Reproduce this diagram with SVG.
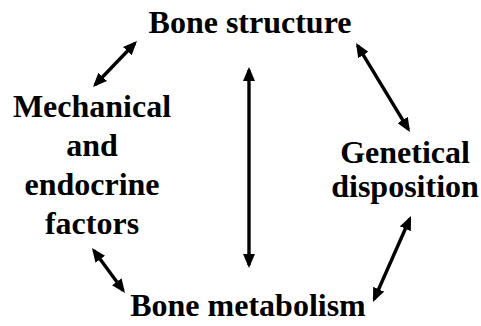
<svg xmlns="http://www.w3.org/2000/svg" width="481" height="326" viewBox="0 0 481 326">
<defs>
<marker id="ah" viewBox="0 0 14 12" refX="11" refY="6" markerWidth="14" markerHeight="12" orient="auto-start-reverse" markerUnits="userSpaceOnUse">
<path d="M0,0 L14,6 L0,12 Z" fill="#000"/>
</marker>
<style>
text{font-family:"Liberation Serif","Times New Roman",serif;font-weight:bold;font-size:32px;fill:#000;text-anchor:middle}
.c line{stroke:#000;stroke-width:3.4;marker-start:url(#ah);marker-end:url(#ah)}
</style>
</defs>
<rect width="481" height="326" fill="#fff"/>
<g id="bone-structure"><text x="250" y="33">Bone structure</text></g>
<g id="mechanical"><text x="92" y="117">Mechanical</text><text x="92" y="156">and</text><text x="92" y="195">endocrine</text><text x="92" y="234">factors</text></g>
<g id="genetical"><text x="405" y="163">Genetical</text><text x="405" y="197">disposition</text></g>
<g id="bone-metabolism"><text x="248" y="316">Bone metabolism</text></g>
<g class="c" id="connectors">
<line x1="95.1" y1="84.8" x2="134.9" y2="43.2"/>
<line x1="249" y1="70" x2="249" y2="265"/>
<line x1="357.6" y1="45.6" x2="408.4" y2="129.4"/>
<line x1="93.8" y1="250.4" x2="123.2" y2="290.6"/>
<line x1="409.8" y1="218.7" x2="374.2" y2="299.3"/>
</g>
</svg>
